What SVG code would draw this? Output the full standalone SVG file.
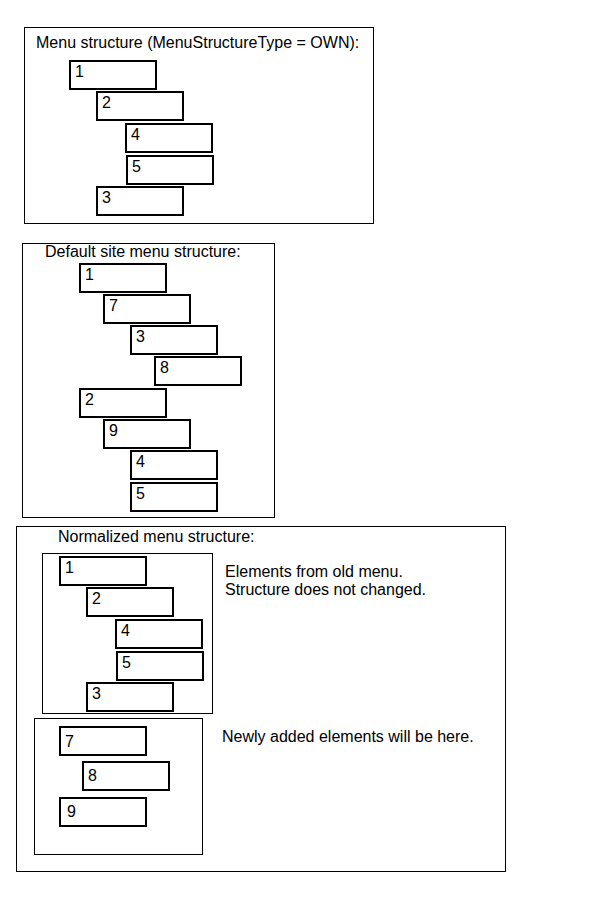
<svg xmlns="http://www.w3.org/2000/svg" width="600" height="900" viewBox="0 0 600 900">
<style>
.frame{fill:none;stroke:#000;stroke-width:1}
.item{fill:#fff;stroke:#000;stroke-width:2}
text{font-family:"Liberation Sans",Arial,sans-serif;font-size:16px;fill:#000}
</style>
<rect width="600" height="900" fill="#fff"/>
<g id="own-menu">
<rect class="frame" x="24.5" y="27.5" width="349" height="196"/>
<text x="36" y="48">Menu structure (MenuStructureType = OWN):</text>
<g id="own-1"><rect class="item" x="70" y="61" width="86" height="28"/><text x="75" y="76.5">1</text></g>
<g id="own-2"><rect class="item" x="97" y="92" width="86" height="28"/><text x="102" y="107.5">2</text></g>
<g id="own-4"><rect class="item" x="126" y="124" width="86" height="28"/><text x="131" y="139.5">4</text></g>
<g id="own-5"><rect class="item" x="127" y="156" width="86" height="28"/><text x="132" y="171.5">5</text></g>
<g id="own-3"><rect class="item" x="97" y="187" width="86" height="28"/><text x="102" y="202.5">3</text></g>
</g>
<g id="default-menu">
<rect class="frame" x="22.5" y="243.5" width="252" height="274"/>
<text x="45" y="257">Default site menu structure:</text>
<g id="def-1"><rect class="item" x="80" y="264" width="86" height="28"/><text x="85" y="279.5">1</text></g>
<g id="def-7"><rect class="item" x="104" y="295" width="86" height="28"/><text x="109" y="310.5">7</text></g>
<g id="def-3"><rect class="item" x="131" y="326" width="86" height="28"/><text x="136" y="341.5">3</text></g>
<g id="def-8"><rect class="item" x="155" y="357" width="86" height="28"/><text x="160" y="372.5">8</text></g>
<g id="def-2"><rect class="item" x="80" y="389" width="86" height="28"/><text x="85" y="404.5">2</text></g>
<g id="def-9"><rect class="item" x="104" y="420" width="86" height="28"/><text x="109" y="435.5">9</text></g>
<g id="def-4"><rect class="item" x="131" y="451" width="86" height="28"/><text x="136" y="466.5">4</text></g>
<g id="def-5"><rect class="item" x="131" y="483" width="86" height="28"/><text x="136" y="498.5">5</text></g>
</g>
<g id="normalized-menu">
<rect class="frame" x="16.5" y="526.5" width="489" height="345"/>
<text x="58" y="542">Normalized menu structure:</text>
<g id="old-elements">
<rect class="frame" x="42.5" y="553.5" width="170" height="160"/>
<g id="norm-1"><rect class="item" x="60" y="557" width="86" height="28"/><text x="65" y="572.5">1</text></g>
<g id="norm-2"><rect class="item" x="87" y="588" width="86" height="28"/><text x="92" y="603.5">2</text></g>
<g id="norm-4"><rect class="item" x="116" y="620" width="86" height="28"/><text x="121" y="635.5">4</text></g>
<g id="norm-5"><rect class="item" x="117" y="652" width="86" height="28"/><text x="122" y="667.5">5</text></g>
<g id="norm-3"><rect class="item" x="87" y="683" width="86" height="28"/><text x="92" y="698.5">3</text></g>
</g>
<text x="225" y="577">Elements from old menu.</text>
<text x="225" y="595">Structure does not changed.</text>
<g id="new-elements">
<rect class="frame" x="34.5" y="718.5" width="168" height="136"/>
<g id="norm-7"><rect class="item" x="60" y="727" width="86" height="28"/><text x="65" y="746.5">7</text></g>
<g id="norm-8"><rect class="item" x="83" y="762" width="86" height="28"/><text x="88" y="780.5">8</text></g>
<g id="norm-9"><rect class="item" x="60" y="798" width="86" height="28"/><text x="67" y="816.5">9</text></g>
</g>
<text x="222" y="742">Newly added elements will be here.</text>
</g>
</svg>
